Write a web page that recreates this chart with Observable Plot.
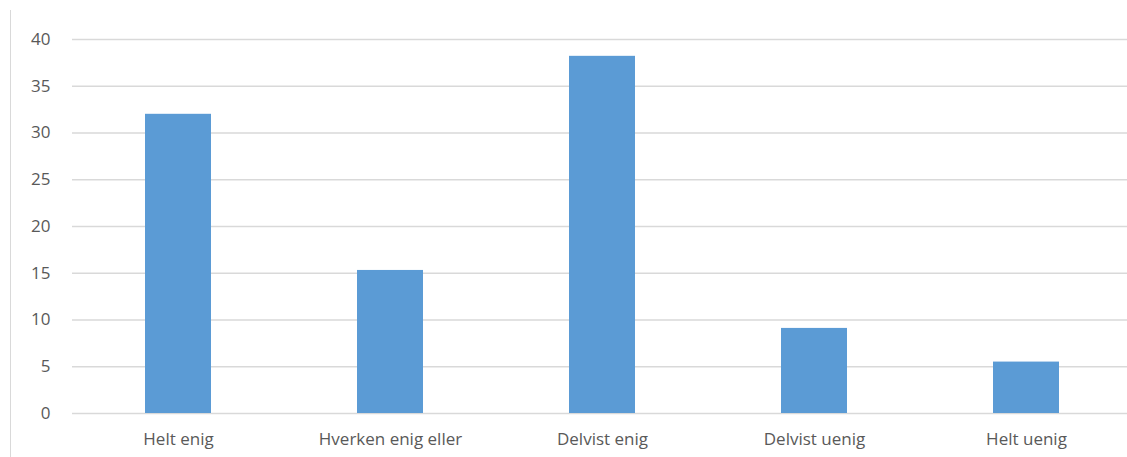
<!DOCTYPE html>
<html>
<head>
<meta charset="utf-8">
<script src="https://cdn.jsdelivr.net/npm/d3@7"></script>
<script src="https://cdn.jsdelivr.net/npm/@observablehq/plot@0.6"></script>
<style>
  html, body { margin: 0; padding: 0; background: #fff; }
  #wrap { position: relative; width: 1127px; height: 457px; }
  #edge { position: absolute; left: 10px; top: 10px; bottom: 0; width: 0; border-left: 1px solid #d9d9d9; }
  #wrap svg { font-family: "Open Sans", "Liberation Sans", sans-serif; }
</style>
</head>
<body>
<div id="wrap"><div id="edge"></div></div>
<script>
const categories = ["Helt enig", "Hverken enig eller", "Delvist enig", "Delvist uenig", "Helt uenig"];
const values = [32, 15.3, 38.2, 9.1, 5.5];
const yTicks = [0, 5, 10, 15, 20, 25, 30, 35, 40];

const data = categories.map((c, i) => ({category: c, value: values[i]}));

const chart = Plot.plot({
  width: 1127,
  height: 457,
  marginLeft: 72,
  marginRight: 0,
  marginTop: 39,
  marginBottom: 44,
  style: {fontSize: "17px", color: "#595959", background: "transparent"},
  x: {domain: categories, range: [72, 1132], paddingInner: 0.689, paddingOuter: 0.3445, label: null},
  y: {domain: [0, 40], label: null},
  marks: [
    Plot.ruleY(yTicks, {stroke: "#d9d9d9", strokeWidth: 1.3}),
    Plot.barY(data, {x: "category", y: "value", fill: "#5b9bd5"}),
    Plot.axisY({ticks: yTicks, tickSize: 0, tickPadding: 22, label: null, fill: "#595959"}),
    Plot.axisX({tickSize: 0, tickPadding: 19, label: null, fill: "#595959"})
  ]
});
document.getElementById("wrap").appendChild(chart);
</script>
</body>
</html>
